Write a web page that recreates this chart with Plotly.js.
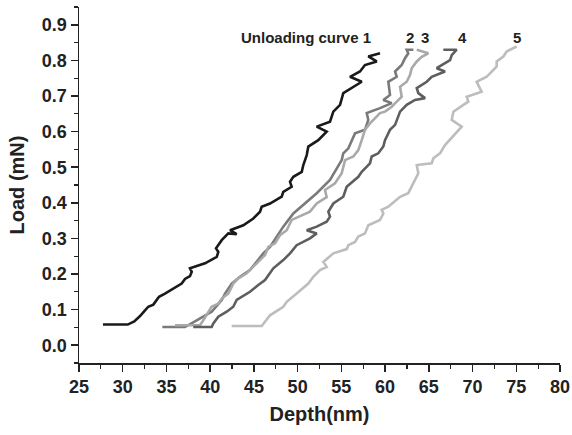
<!DOCTYPE html>
<html>
<head>
<meta charset="utf-8">
<script src="https://cdn.plot.ly/plotly-3.0.1.min.js"></script>
<style>html,body{margin:0;padding:0;background:#fff;}#chart{width:572px;height:435px;}</style>
</head>
<body>
<div id="chart"></div>
<script>
// Curve 1 (black)
const depth1 = [27.74,30.57,31.32,31.98,32.55,32.92,33.50,34.15,34.83,35.78,36.74,37.12,37.69,37.89,37.69,39.41,40.17,40.75,40.93,40.67,41.32,42.07,43.03,42.27,43.79,44.93,45.70,45.89,46.84,48.18,48.36,49.32,49.13,49.51,50.47,50.65,51.04,51.22,52.36,53.32,52.18,53.70,54.08,54.85,55.22,56.37,57.33,55.99,57.13,57.70,59.04,58.08,59.42];
const load1  = [0.058,0.058,0.067,0.082,0.098,0.108,0.114,0.136,0.145,0.159,0.173,0.186,0.194,0.206,0.216,0.230,0.239,0.248,0.262,0.272,0.295,0.314,0.312,0.323,0.337,0.356,0.375,0.389,0.398,0.417,0.431,0.445,0.459,0.473,0.487,0.506,0.534,0.558,0.576,0.600,0.614,0.628,0.656,0.675,0.708,0.726,0.740,0.754,0.769,0.787,0.797,0.811,0.820];
// Curve 2
const depth2 = [34.53,37.12,38.46,40.17,41.32,41.70,42.46,43.41,44.55,46.07,46.84,48.36,49.51,51.04,52.18,53.70,54.47,55.04,55.22,55.80,56.56,57.70,58.08,57.90,59.42,60.76,59.80,60.56,60.37,61.33,61.14,61.90,62.28,62.65,62.47,63.23];
const load2  = [0.051,0.051,0.070,0.094,0.127,0.145,0.173,0.192,0.211,0.258,0.276,0.333,0.370,0.403,0.427,0.464,0.497,0.520,0.539,0.553,0.595,0.605,0.633,0.652,0.666,0.680,0.689,0.703,0.740,0.754,0.769,0.787,0.806,0.820,0.830,0.830];
// Curve 3
const depth3 = [35.98,38.84,39.21,39.79,40.17,40.93,41.32,42.07,42.64,43.22,44.18,45.32,46.27,46.65,47.41,47.98,48.75,49.32,50.08,51.41,52.18,53.32,53.13,54.27,55.04,55.42,56.37,56.94,57.33,57.70,58.27,59.42,59.99,60.76,61.33,61.90,61.71,62.47,62.85,63.04,63.62,64.19,64.94,63.62];
const load3  = [0.056,0.056,0.070,0.094,0.108,0.117,0.131,0.145,0.173,0.188,0.202,0.230,0.253,0.276,0.286,0.309,0.323,0.352,0.361,0.375,0.398,0.416,0.436,0.455,0.483,0.520,0.530,0.548,0.576,0.605,0.623,0.652,0.656,0.670,0.684,0.698,0.726,0.740,0.759,0.778,0.797,0.810,0.820,0.830];
// Curve 4
const depth4 = [38.07,40.17,40.36,40.93,41.89,42.64,43.03,44.55,45.50,46.27,47.22,48.36,49.13,49.89,51.41,52.18,51.04,52.18,53.32,53.70,53.51,54.08,55.22,55.61,56.94,57.33,58.27,58.47,59.22,59.80,59.99,60.56,61.14,61.71,62.47,63.42,64.57,63.80,63.62,64.76,65.33,66.85,65.90,66.85,67.43,67.62,68.19,66.66];
const load4  = [0.051,0.051,0.061,0.080,0.094,0.108,0.127,0.150,0.169,0.183,0.216,0.239,0.258,0.281,0.300,0.314,0.323,0.333,0.347,0.361,0.375,0.398,0.417,0.445,0.473,0.487,0.511,0.530,0.539,0.558,0.576,0.605,0.619,0.656,0.675,0.689,0.694,0.708,0.722,0.740,0.754,0.769,0.778,0.792,0.801,0.815,0.830,0.830];
// Curve 5
const depth5 = [42.46,45.89,46.27,46.84,48.36,48.75,49.89,51.22,51.79,52.56,53.32,52.94,54.08,55.61,55.80,56.56,56.94,57.70,58.08,59.42,59.80,59.61,60.37,61.71,62.65,63.23,63.80,63.62,65.33,65.52,66.28,66.85,68.19,68.76,67.62,67.81,68.95,69.52,69.33,71.04,70.47,71.62,72.76,72.76,73.52,73.90,75.04];
const load5  = [0.054,0.054,0.066,0.084,0.108,0.122,0.145,0.173,0.192,0.211,0.220,0.234,0.258,0.270,0.281,0.290,0.305,0.314,0.337,0.352,0.370,0.380,0.389,0.417,0.427,0.455,0.483,0.506,0.511,0.525,0.539,0.562,0.600,0.614,0.633,0.656,0.675,0.684,0.698,0.712,0.740,0.754,0.783,0.797,0.811,0.825,0.839];

const curveColors = ['#1a1a1a','#7a7a7a','#a9a9a9','#5e5e5e','#bdbdbd'];
const curveLabels = ['Unloading curve 1','2','3','4','5'];
const labelX = [58.6,62.85,64.57,68.9,75.1];
const labelY = 0.865;

const depths = [depth1,depth2,depth3,depth4,depth5];
const loads = [load1,load2,load3,load4,load5];

const traces = depths.map((d,i)=>({
  x: d, y: loads[i], type:'scatter', mode:'lines',
  line:{color:curveColors[i], width:2.6},
  showlegend:false, hoverinfo:'skip'
}));

const fam = 'Liberation Sans, Arial, sans-serif';
const tickFont = {family:fam, size:18, color:'#222', weight:'bold'};
const titleFont = {family:fam, size:20, color:'#222', weight:'bold'};

const annotations = curveLabels.map((t,i)=>({
  x: labelX[i], y: labelY, xref:'x', yref:'y', text:t, showarrow:false,
  xanchor: i===0 ? 'right' : 'center', yanchor:'middle',
  font:{family:fam, size:15, color:'#222', weight:'bold'}
}));

const layout = {
  width:572, height:435,
  margin:{l:79, r:12, t:7, b:72},
  paper_bgcolor:'#fff', plot_bgcolor:'#fff',
  showlegend:false,
  xaxis:{
    range:[25,80], tick0:25, dtick:5, showgrid:false, zeroline:false,
    showline:true, linecolor:'#222', linewidth:1.5,
    ticks:'outside', ticklen:7, tickwidth:1.5, tickcolor:'#222',
    minor:{ticks:'outside', ticklen:4, tickwidth:1.2, tickcolor:'#222', dtick:2.5, tick0:25},
    tickfont:tickFont,
    title:{text:'Depth(nm)', font:titleFont, standoff:11}
  },
  yaxis:{
    range:[-0.05,0.95], tick0:0, dtick:0.1, tickformat:'.1f', showgrid:false, zeroline:false,
    showline:true, linecolor:'#222', linewidth:1.5,
    ticks:'outside', ticklen:7, tickwidth:1.5, tickcolor:'#222',
    minor:{ticks:'outside', ticklen:4, tickwidth:1.2, tickcolor:'#222', dtick:0.05, tick0:0.05},
    tickfont:tickFont,
    title:{text:'Load (mN)', font:titleFont, standoff:12}
  },
  annotations: annotations
};

Plotly.newPlot('chart', traces, layout, {staticPlot:true, displayModeBar:false});
</script>
</body>
</html>
